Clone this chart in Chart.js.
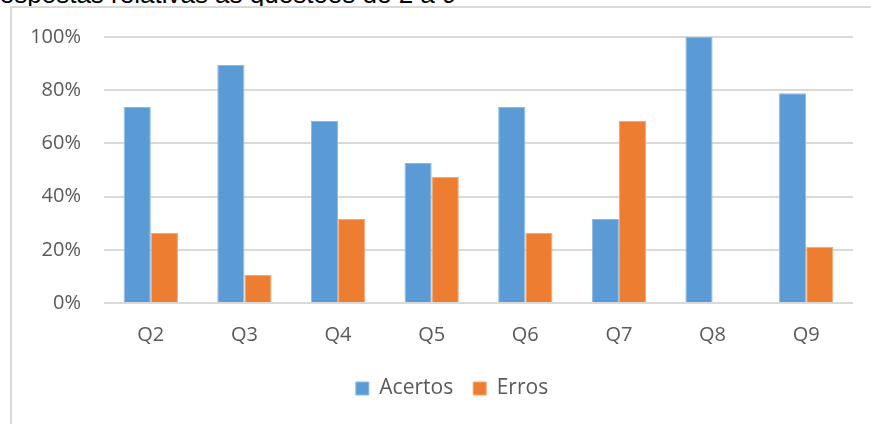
<!DOCTYPE html>
<html>
<head>
<meta charset="utf-8">
<script src="https://cdn.jsdelivr.net/npm/chart.js@4"></script>
<style>
  html, body { margin: 0; padding: 0; background: #fff; overflow: hidden; }
  #wrap { position: relative; width: 871px; height: 424px; overflow: hidden; }
  #title { position: absolute; left: -19px; top: -19px; font: 26px/26px "Liberation Sans", Arial, sans-serif; color: #000; white-space: nowrap; }
  #frame { position: absolute; left: 10px; top: 6px; width: 900px; height: 500px; border-left: 2px solid #d9d9d9; border-top: 2px solid #d9d9d9; }
  canvas { position: absolute; left: 0; top: 0; }
</style>
</head>
<body>
<div id="wrap">
  <div id="title">Respostas relativas às questões de 2 a 9</div>
  <div id="frame"></div>
  <canvas id="chart" width="871" height="424"></canvas>
</div>
<script>
// Questions on the x axis
const questions = ['Q2', 'Q3', 'Q4', 'Q5', 'Q6', 'Q7', 'Q8', 'Q9'];

// Percentage of answers (19 students)
const acertos = [73.7, 89.5, 68.4, 52.6, 73.7, 31.6, 100, 78.9];
const erros = [26.3, 10.5, 31.6, 47.4, 26.3, 68.4, 0, 21.1];

const yTicks = [0, 20, 40, 60, 80, 100];

const tickColor = '#595959';
const font = { family: '"Open Sans", sans-serif', size: 20 };

// push the legend a bit to the right, the reference centres it on a wider frame
const legendShift = {
  id: 'legendShift',
  afterLayout(chart) {
    chart.legend.left += 40;
  },
};

const ctx = document.getElementById('chart').getContext('2d');

new Chart(ctx, {
  type: 'bar',
  data: {
    labels: questions,
    datasets: [
      {
        label: 'Acertos',
        data: acertos,
        backgroundColor: '#5b9bd5',
        borderColor: '#8bb9e4',
        borderWidth: 1,
      },
      {
        label: 'Erros',
        data: erros,
        backgroundColor: '#ed7d31',
        borderColor: '#f3a674',
        borderWidth: 1,
      },
    ],
  },
  options: {
    responsive: false,
    animation: false,
    layout: {
      padding: { left: 11, right: 18, top: 37, bottom: 15 },
    },
    datasets: {
      bar: {
        categoryPercentage: 0.58,
        barPercentage: 1,
      },
    },
    plugins: {
      tooltip: { enabled: false },
      legend: {
        position: 'bottom',
        labels: {
          color: tickColor,
          font: { family: font.family, size: 21 },
          boxWidth: 13,
          boxHeight: 13,
          padding: 20,
        },
      },
    },
    scales: {
      x: {
        grid: { display: false, drawTicks: false },
        border: { display: false },
        ticks: { color: tickColor, font: font, padding: 20 },
        afterFit: (scale) => { scale.height = 55; },
      },
      y: {
        min: 0,
        max: 100,
        afterBuildTicks: (scale) => {
          scale.ticks = yTicks.map((v) => ({ value: v }));
        },
        grid: { color: '#d9d9d9', lineWidth: 2, drawTicks: false },
        border: { display: false },
        ticks: {
          color: tickColor,
          font: font,
          padding: 23,
          callback: (v) => v + '%',
        },
        afterFit: (scale) => { scale.width = 93; },
      },
    },
  },
  plugins: [legendShift],
});
</script>
</body>
</html>
